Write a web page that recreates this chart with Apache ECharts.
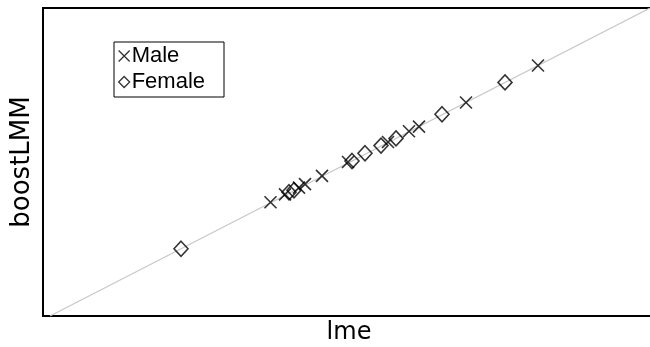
<!DOCTYPE html>
<html>
<head>
<meta charset="utf-8">
<script src="https://cdn.jsdelivr.net/npm/echarts@6/dist/echarts.min.js"></script>
<style>html,body{margin:0;padding:0;background:#fff}#c{width:650px;height:347px}</style>
</head>
<body>
<div id="c"></div>
<script>
// lme (x) vs boostLMM (y)
var maleLme      = [-0.795, -0.65, -0.51, -0.45, -0.28, -0.02, 0.38, 0.59, 0.69, 1.16, 1.88];
var maleBoost    = [-0.785, -0.63, -0.50, -0.43, -0.27, 0.00, 0.39, 0.60, 0.69, 1.16, 1.88];
var femaleLme    = [-1.69, -0.61, -0.56, 0.02, 0.15, 0.31, 0.46, 0.92, 1.55];
var femaleBoost  = [-1.69, -0.59, -0.55, 0.02, 0.17, 0.32, 0.46, 0.93, 1.55];
var identityLine = [-3, 3];
var legendNames  = ['Male', 'Female'];

function pairs(xs, ys) { return xs.map(function (v, i) { return [v, ys[i]]; }); }

var crossPath = 'path://M0,0L10,10M10,0L0,10';
var chart = echarts.init(document.getElementById('c'), null, {renderer: 'canvas'});
chart.setOption({
  animation: false,
  backgroundColor: '#fff',
  grid: {left: 43, top: 8, bottom: 31, right: -5, outerBoundsMode: 'none', containLabel: false,
         show: true, borderColor: '#000', borderWidth: 2, backgroundColor: 'transparent'},
  xAxis: {
    type: 'value', min: -3.07, max: 3.05,
    axisLine: {show: false}, axisTick: {show: false}, axisLabel: {show: false}, splitLine: {show: false},
    name: 'lme', nameLocation: 'middle', nameGap: 5,
    nameTextStyle: {fontFamily: 'DejaVu Sans', fontSize: 24, color: '#000', verticalAlign: 'top'}
  },
  yAxis: {
    type: 'value', min: -3, max: 3,
    axisLine: {show: false}, axisTick: {show: false}, axisLabel: {show: false}, splitLine: {show: false},
    name: 'boostLMM', nameLocation: 'middle', nameGap: 8,
    nameTextStyle: {fontFamily: 'DejaVu Sans', fontSize: 26, color: '#000'}
  },
  legend: {
    orient: 'vertical', left: 114, top: 42,
    borderColor: '#000', borderWidth: 1, padding: [3, 19, 4, 4],
    itemWidth: 11, itemHeight: 11, itemGap: 4,
    textStyle: {fontFamily: 'Liberation Sans', fontSize: 22, color: '#000', padding: [0, 0, 0, -3]},
    data: [
      {name: legendNames[0], icon: crossPath, itemStyle: {color: 'transparent', borderColor: '#000', borderWidth: 1.3}},
      {name: legendNames[1], icon: 'diamond', itemStyle: {color: 'transparent', borderColor: '#000', borderWidth: 1.3}}
    ]
  },
  series: [
    {
      type: 'line', data: [[identityLine[0], identityLine[0]], [identityLine[1], identityLine[1]]],
      symbol: 'none', lineStyle: {color: '#c8c8c8', width: 1.2}, silent: true, z: 1
    },
    {
      name: legendNames[0], type: 'scatter', data: pairs(maleLme, maleBoost),
      symbol: crossPath, symbolSize: 12,
      itemStyle: {color: 'transparent', borderColor: '#000', borderWidth: 1.6}, z: 3
    },
    {
      name: legendNames[1], type: 'scatter', data: pairs(femaleLme, femaleBoost),
      symbol: 'diamond', symbolSize: [14, 15],
      itemStyle: {color: 'transparent', borderColor: '#000', borderWidth: 1.6}, z: 3
    }
  ]
});
</script>
</body>
</html>
